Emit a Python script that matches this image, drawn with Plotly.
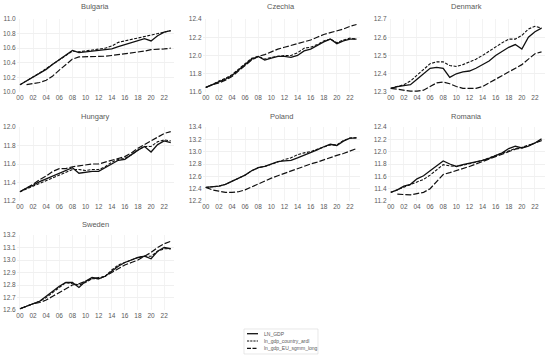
import plotly.graph_objects as go

years = list(range(2000, 2024))
year_labels = ["00", "02", "04", "06", "08", "10", "12", "14", "16", "18", "20", "22"]
series_names = ["LN_GDP", "ln_gdp_country_ardl", "ln_gdp_EU_sgmm_long"]

bulgaria_ln = [10.10, 10.15, 10.20, 10.25, 10.31, 10.38, 10.44, 10.51, 10.57, 10.54, 10.55, 10.57,
               10.58, 10.58, 10.59, 10.62, 10.65, 10.67, 10.70, 10.73, 10.70, 10.77, 10.82, 10.84]
bulgaria_ardl = [10.10, 10.15, 10.21, 10.26, 10.32, 10.38, 10.44, 10.50, 10.56, 10.55, 10.56, 10.57,
                 10.58, 10.60, 10.63, 10.68, 10.70, 10.72, 10.74, 10.76, 10.77, 10.79, 10.81, 10.84]
bulgaria_eu = [None, 10.10, 10.11, 10.13, 10.16, 10.22, 10.30, 10.37, 10.45, 10.48, 10.48, 10.48,
               10.49, 10.49, 10.50, 10.51, 10.52, 10.53, 10.55, 10.56, 10.58, 10.58, 10.59, 10.60]

czechia_ln = [11.65, 11.68, 11.71, 11.74, 11.78, 11.84, 11.90, 11.96, 11.99, 11.95, 11.97, 11.99,
              11.99, 11.98, 12.00, 12.05, 12.07, 12.11, 12.15, 12.18, 12.13, 12.16, 12.18, 12.18]
czechia_ardl = [11.65, 11.68, 11.72, 11.75, 11.79, 11.85, 11.91, 11.97, 11.99, 11.96, 11.98, 11.99,
                12.00, 12.00, 12.03, 12.08, 12.09, 12.12, 12.16, 12.18, 12.14, 12.17, 12.19, 12.18]
czechia_eu = [11.65, 11.68, 11.70, 11.73, 11.77, 11.83, 11.89, 11.95, 11.99, 12.01, 12.04, 12.07,
              12.09, 12.11, 12.13, 12.15, 12.17, 12.20, 12.23, 12.25, 12.27, 12.29, 12.32, 12.34]

denmark_ln = [12.32, 12.33, 12.335, 12.34, 12.37, 12.40, 12.43, 12.435, 12.43, 12.38, 12.40, 12.41,
              12.415, 12.43, 12.45, 12.47, 12.50, 12.525, 12.545, 12.56, 12.535, 12.60, 12.63, 12.65]
denmark_ardl = [12.32, 12.33, 12.34, 12.36, 12.39, 12.42, 12.455, 12.465, 12.465, 12.445, 12.44, 12.45,
                12.465, 12.48, 12.50, 12.525, 12.55, 12.57, 12.59, 12.59, 12.61, 12.645, 12.66, 12.65]
denmark_eu = [12.32, 12.315, 12.31, 12.305, 12.305, 12.31, 12.33, 12.35, 12.355, 12.345, 12.33, 12.32,
              12.32, 12.32, 12.33, 12.35, 12.37, 12.39, 12.41, 12.43, 12.45, 12.48, 12.51, 12.52]

hungary_ln = [11.30, 11.34, 11.37, 11.41, 11.44, 11.47, 11.50, 11.53, 11.56, 11.50, 11.51, 11.52,
              11.52, 11.56, 11.60, 11.64, 11.65, 11.70, 11.75, 11.79, 11.73, 11.81, 11.85, 11.83]
hungary_ardl = [11.30, 11.33, 11.36, 11.39, 11.42, 11.45, 11.48, 11.51, 11.54, 11.54, 11.53, 11.54,
                11.54, 11.57, 11.62, 11.65, 11.66, 11.70, 11.75, 11.79, 11.79, 11.84, 11.86, 11.85]
hungary_eu = [11.30, 11.34, 11.38, 11.43, 11.47, 11.52, 11.55, 11.55, 11.57, 11.58, 11.59, 11.60,
              11.60, 11.62, 11.64, 11.66, 11.68, 11.72, 11.77, 11.81, 11.85, 11.89, 11.93, 11.95]

poland_ln = [12.42, 12.43, 12.44, 12.47, 12.52, 12.56, 12.62, 12.69, 12.74, 12.76, 12.80, 12.84,
             12.85, 12.86, 12.90, 12.94, 12.98, 13.03, 13.08, 13.12, 13.10, 13.17, 13.22, 13.22]
poland_ardl = [12.42, 12.43, 12.44, 12.47, 12.52, 12.56, 12.62, 12.69, 12.74, 12.76, 12.80, 12.84,
               12.87, 12.90, 12.95, 12.98, 13.00, 13.04, 13.08, 13.11, 13.11, 13.18, 13.22, 13.23]
poland_eu = [12.42, 12.38, 12.36, 12.34, 12.34, 12.35, 12.38, 12.43, 12.48, 12.53, 12.57, 12.61,
             12.65, 12.68, 12.72, 12.76, 12.80, 12.83, 12.87, 12.91, 12.94, 12.97, 13.01, 13.05]

romania_ln = [11.34, 11.38, 11.44, 11.47, 11.56, 11.61, 11.69, 11.77, 11.85, 11.80, 11.76, 11.79,
              11.81, 11.83, 11.86, 11.89, 11.93, 11.98, 12.05, 12.09, 12.06, 12.09, 12.14, 12.21]
romania_ardl = [11.34, 11.38, 11.42, 11.46, 11.50, 11.55, 11.62, 11.71, 11.79, 11.77, 11.76, 11.78,
                11.80, 11.83, 11.86, 11.90, 11.94, 11.98, 12.02, 12.05, 12.07, 12.10, 12.14, 12.19]
romania_eu = [None, 11.31, 11.30, 11.30, 11.32, 11.34, 11.40, 11.52, 11.63, 11.66, 11.69, 11.72,
              11.76, 11.80, 11.84, 11.88, 11.92, 11.96, 12.00, 12.04, 12.06, 12.10, 12.14, 12.18]

sweden_ln = [12.61, 12.63, 12.65, 12.67, 12.71, 12.75, 12.79, 12.82, 12.82, 12.78, 12.83, 12.86,
             12.85, 12.87, 12.91, 12.95, 12.98, 13.00, 13.02, 13.03, 13.01, 13.07, 13.10, 13.09]
sweden_ardl = [12.61, 12.63, 12.65, 12.67, 12.70, 12.74, 12.78, 12.82, 12.81, 12.80, 12.82, 12.85,
               12.85, 12.87, 12.92, 12.96, 12.98, 13.00, 13.02, 13.03, 13.03, 13.07, 13.09, 13.09]
sweden_eu = [12.61, 12.63, 12.65, 12.66, 12.68, 12.71, 12.74, 12.77, 12.80, 12.81, 12.83, 12.85,
             12.86, 12.87, 12.90, 12.93, 12.96, 12.98, 13.00, 13.03, 13.06, 13.10, 13.13, 13.15]

countries = ["Bulgaria", "Czechia", "Denmark", "Hungary", "Poland", "Romania", "Sweden"]
country_data = {
    "Bulgaria": (bulgaria_ln, bulgaria_ardl, bulgaria_eu),
    "Czechia": (czechia_ln, czechia_ardl, czechia_eu),
    "Denmark": (denmark_ln, denmark_ardl, denmark_eu),
    "Hungary": (hungary_ln, hungary_ardl, hungary_eu),
    "Poland": (poland_ln, poland_ardl, poland_eu),
    "Romania": (romania_ln, romania_ardl, romania_eu),
    "Sweden": (sweden_ln, sweden_ardl, sweden_eu),
}
y_ranges = {
    "Bulgaria": (10.0, 11.0, 0.2), "Czechia": (11.6, 12.4, 0.2), "Denmark": (12.3, 12.7, 0.1),
    "Hungary": (11.2, 12.0, 0.2), "Poland": (12.2, 13.4, 0.2), "Romania": (11.2, 12.4, 0.2),
    "Sweden": (12.6, 13.2, 0.1),
}

W, H = 550, 358
col_px = [(16.7, 174.0), (202.5, 359.8), (387.5, 544.8)]
row_px = [(19, 92), (127, 201), (235, 310)]
title_y_px = [6, 116, 224]

styles = [
    dict(color="#111111", width=1.3, dash="solid"),
    dict(color="#111111", width=1.1, dash="3px,1.5px"),
    dict(color="#111111", width=1.2, dash="6px,2px"),
]
legend_dash = ["solid", "2.2px,1px", "4px,1.5px"]

fig = go.Figure()
FONT = "Liberation Sans"
GREY = "#595959"
x_idx = [y - 2000 for y in years]

for i, c in enumerate(countries):
    r, col = divmod(i, 3)
    n = i + 1
    xa = "x" if n == 1 else f"x{n}"
    ya = "y" if n == 1 else f"y{n}"
    for s, vals in enumerate(country_data[c]):
        fig.add_trace(go.Scatter(
            x=x_idx, y=vals, mode="lines", name=series_names[s], line=styles[s],
            xaxis=xa, yaxis=ya, showlegend=False, connectgaps=False,
        ))
    x0, x1 = col_px[col]
    top, bot = row_px[r]
    lo, hi, step = y_ranges[c]
    nt = int(round((hi - lo) / step))
    tv = [round(lo + k * step, 2) for k in range(nt + 1)]
    fig.layout[f"xaxis{n if n > 1 else ''}"] = dict(
        domain=[x0 / W, x1 / W], anchor=ya, range=[-0.5, 23.5],
        tickvals=list(range(0, 24, 2)), ticktext=year_labels,
        showgrid=True, gridcolor="#f3f3f3", gridwidth=0.6, zeroline=False,
        showline=False, ticks="", tickfont=dict(size=6.5, color=GREY, family=FONT),
        fixedrange=True, automargin=False,
    )
    fig.layout[f"yaxis{n if n > 1 else ''}"] = dict(
        domain=[1 - bot / H, 1 - top / H], anchor=xa, range=[lo, hi],
        tickvals=tv, ticktext=[f"{v:.1f}" for v in tv],
        showgrid=True, gridcolor="#f0f0f0", gridwidth=0.6, zeroline=False,
        showline=False, ticks="", tickfont=dict(size=6.5, color=GREY, family=FONT),
        fixedrange=True, automargin=False,
    )
    fig.add_annotation(
        text=c, xref="paper", yref="paper", x=((x0 + x1) / 2) / W, y=1 - title_y_px[r] / H,
        showarrow=False, font=dict(size=7.5, color=GREY, family=FONT), yanchor="middle",
        xanchor="center",
    )

# Compact legend drawn as shapes + text (plotly's legend rows can't be this tight)
leg_x0, leg_x1, leg_y0, leg_y1 = 244, 318, 329, 354
fig.add_shape(type="rect", xref="paper", yref="paper",
              x0=leg_x0 / W, x1=leg_x1 / W, y0=1 - leg_y1 / H, y1=1 - leg_y0 / H,
              line=dict(color="#d9d9d9", width=0.6), fillcolor="white", layer="above")
entry_y = [333.7, 341.0, 348.3]
for s, name in enumerate(series_names):
    yy = 1 - entry_y[s] / H
    fig.add_shape(type="line", xref="paper", yref="paper",
                  x0=247 / W, x1=258 / W, y0=yy, y1=yy,
                  line=dict(color=styles[s]["color"], width=styles[s]["width"],
                            dash=legend_dash[s]),
                  layer="above")
    fig.add_annotation(text=name, xref="paper", yref="paper", x=261.5 / W, y=yy,
                       xanchor="left", yanchor="middle", showarrow=False,
                       font=dict(size=5, color=GREY, family=FONT))

fig.update_layout(
    width=W, height=H, margin=dict(l=0, r=0, t=0, b=0),
    paper_bgcolor="white", plot_bgcolor="white", showlegend=False,
)

fig.write_html("out.html", config={"displayModeBar": False},
               post_script="document.body.style.margin='0';document.body.style.overflow='hidden';")
